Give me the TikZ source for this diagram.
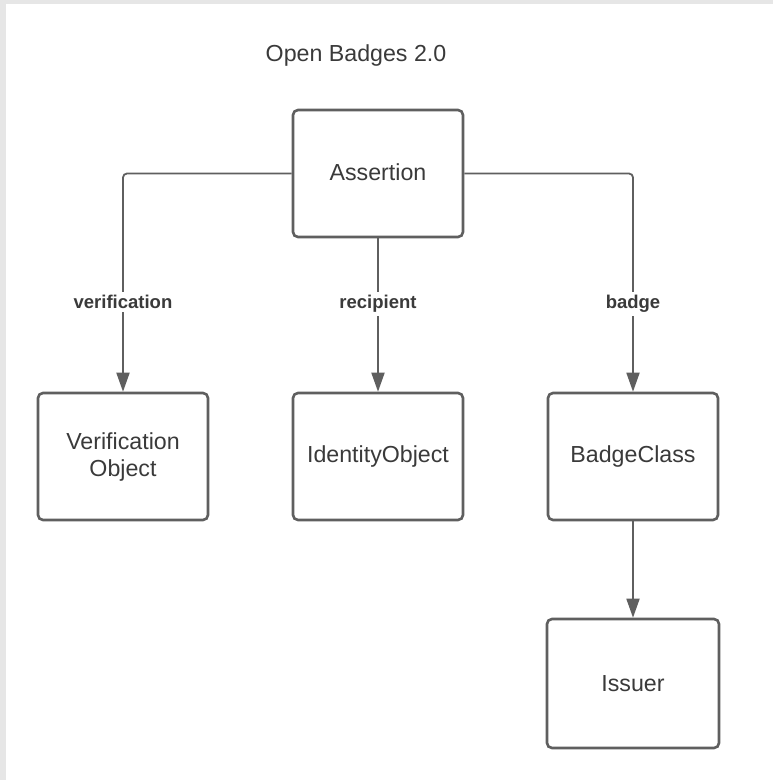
\documentclass[tikz,border=0pt]{standalone}
\usepackage{fontspec}
\setmainfont{Liberation Sans}
\usetikzlibrary{arrows.meta}
\definecolor{edgegray}{HTML}{5F5F5F}
\definecolor{textgray}{HTML}{3A3A3A}
\definecolor{bggray}{HTML}{E6E6E6}
\tikzset{
  box/.style={draw=edgegray, line width=2.6pt, rounded corners=5pt, fill=white,
    minimum width=170pt, minimum height=127pt, inner sep=0pt,
    text=textgray, align=center, font=\fontsize{23.2}{27}\selectfont},
  conn/.style={draw=edgegray, line width=1.8pt, -{Triangle[length=19pt,width=13pt]}},
  lbl/.style={fill=white, text=textgray, inner sep=3pt, font=\fontsize{18.5}{22}\selectfont\bfseries},
}
\begin{document}
\begin{tikzpicture}[x=1pt,y=-1pt]
\fill[bggray] (0,0) rectangle (773,780);
\fill[white] (6,4) rectangle (773,780);
\useasboundingbox (0,0) rectangle (773,780);
\node[text=textgray, font=\fontsize{23.2}{27}\selectfont] (title) at (356,55) {Open Badges 2.0};
\node[box] (assert) at (378,173.5) {\raisebox{2pt}{Assertion}};
\node[box] (verif) at (123,456.5) {Verification\\Object};
\node[box] (ident) at (378,456.5) {\raisebox{1pt}{IdentityObject}};
\node[box] (badgec) at (633,456.5) {\raisebox{1pt}{BadgeClass}};
\node[box, minimum width=172pt, minimum height=129pt] (issuer) at (633,683.5) {Issuer};
\coordinate (c1) at (123,173.5);
\coordinate (c2) at (633,173.5);
\draw[conn, rounded corners=4pt] (assert.west) -- (c1) -- (verif.north);
\draw[conn] (assert.south) -- (ident.north);
\draw[conn, rounded corners=4pt] (assert.east) -- (c2) -- (badgec.north);
\draw[conn] (badgec.south) -- (issuer.north);
\node[lbl] (l1) at (123,302) {verification};
\node[lbl] (l2) at (378,304) {recipient};
\node[lbl] (l3) at (633,304) {badge};
\end{tikzpicture}
\end{document}
